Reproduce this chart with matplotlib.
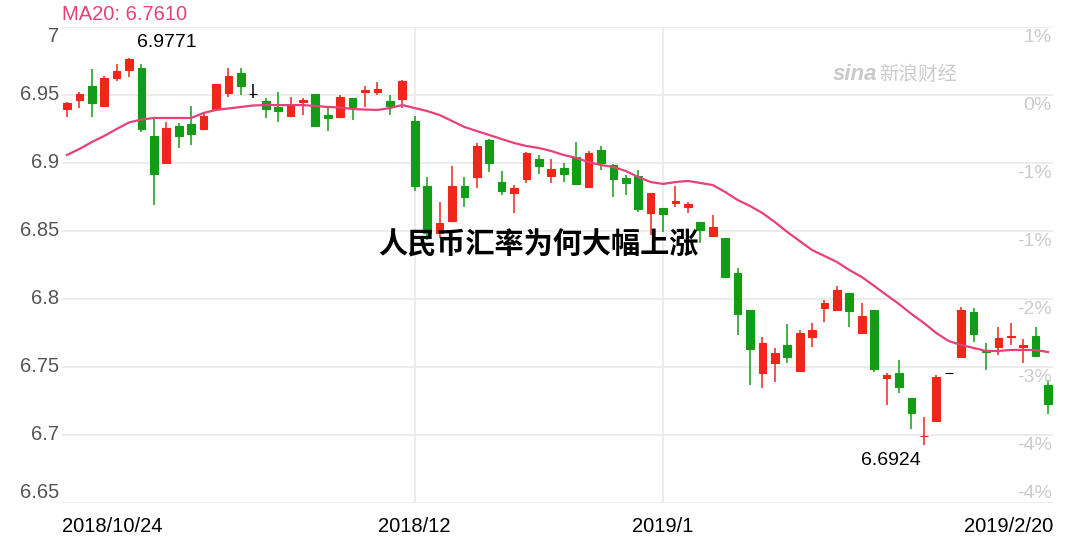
import numpy as np
import pandas as pd
import matplotlib
matplotlib.use('Agg')
import matplotlib.pyplot as plt
import matplotlib.transforms as mtransforms

plt.rcParams['font.family'] = ['Liberation Sans', 'Noto Sans CJK SC', 'DejaVu Sans']

# trading calendar (CNY market)
holidays = ['2018-12-31', '2019-01-01', '2019-02-04', '2019-02-05',
            '2019-02-06', '2019-02-07', '2019-02-08']
extra_days = ['2019-02-02']

# daily OHLC
open_ = [6.9397, 6.9463, 6.9566, 6.9419, 6.9625, 6.9684, 6.9699, 6.9199, 6.9000, 6.9272,
         6.9287, 6.9250, 6.9397, 6.9515, 6.9662, 6.9507, 6.9456, 6.9412, 6.9346, 6.9449,
         6.9507, 6.9353, 6.9338, 6.9478, 6.9522, 6.9522, 6.9456, 6.9471, 6.9309, 6.8831,
         6.8486, 6.8574, 6.8831, 6.8897, 6.9169, 6.8861, 6.8780, 6.8883, 6.9030, 6.8905,
         6.8964, 6.9045, 6.8824, 6.9096, 6.8986, 6.8890, 6.8905, 6.8633, 6.8670, 6.8706,
         6.8677, 6.8567, 6.8464, 6.8449, 6.8192, 6.7920, 6.7457, 6.7530, 6.7663, 6.7472,
         6.7721, 6.7935, 6.7920, 6.8045, 6.7751, 6.7920, 6.7420, 6.7457, 6.7273, 6.6990,
         6.7104, 6.7457, 6.7575, 6.7905, 6.7618, 6.7648, 6.7721, 6.7648, 6.7729, 6.7369]
high = [6.9449, 6.9522, 6.9691, 6.9640, 6.9728, 6.9771, 6.9728, 6.9331, 6.9302, 6.9294,
        6.9419, 6.9375, 6.9581, 6.9699, 6.9699, 6.9581, 6.9478, 6.9522, 6.9486, 6.9478,
        6.9507, 6.9412, 6.9500, 6.9478, 6.9566, 6.9596, 6.9500, 6.9610, 6.9346, 6.8897,
        6.8714, 6.8978, 6.8897, 6.9147, 6.9177, 6.8942, 6.8839, 6.9081, 6.9059, 6.9030,
        6.9000, 6.9155, 6.9089, 6.9125, 6.8993, 6.8912, 6.8949, 6.8780, 6.8670, 6.8831,
        6.8714, 6.8567, 6.8618, 6.8449, 6.8229, 6.7920, 6.7721, 6.7640, 6.7817, 6.7773,
        6.7824, 6.7994, 6.8096, 6.8045, 6.7971, 6.7920, 6.7457, 6.7552, 6.7273, 6.7133,
        6.7442, 6.7457, 6.7942, 6.7934, 6.7677, 6.7794, 6.7824, 6.7707, 6.7794, 6.7405]
low = [6.9338, 6.9404, 6.9338, 6.9412, 6.9603, 6.9632, 6.9228, 6.8692, 6.9000, 6.9111,
       6.9133, 6.9250, 6.9397, 6.9486, 6.9500, 6.9478, 6.9331, 6.9302, 6.9346, 6.9353,
       6.9272, 6.9236, 6.9338, 6.9316, 6.9412, 6.9500, 6.9353, 6.9404, 6.8795, 6.8434,
       6.8449, 6.8574, 6.8677, 6.8817, 6.8934, 6.8765, 6.8633, 6.8853, 6.8920, 6.8853,
       6.8861, 6.8839, 6.8817, 6.8949, 6.8751, 6.8765, 6.8640, 6.8471, 6.8493, 6.8677,
       6.8633, 6.8412, 6.8456, 6.8162, 6.7736, 6.7369, 6.7347, 6.7391, 6.7530, 6.7472,
       6.7648, 6.7832, 6.7920, 6.7795, 6.7751, 6.7464, 6.7222, 6.7310, 6.7045, 6.6924,
       6.7104, 6.7457, 6.7575, 6.7684, 6.7479, 6.7589, 6.7663, 6.7530, 6.7575, 6.7155]
close = [6.9441, 6.9507, 6.9441, 6.9625, 6.9677, 6.9765, 6.9250, 6.8920, 6.9258, 6.9199,
         6.9213, 6.9346, 6.9581, 6.9640, 6.9566, 6.9507, 6.9397, 6.9383, 6.9427, 6.9463,
         6.9272, 6.9331, 6.9486, 6.9412, 6.9537, 6.9544, 6.9419, 6.9603, 6.8831, 6.8486,
         6.8559, 6.8831, 6.8750, 6.9125, 6.9000, 6.8795, 6.8817, 6.9074, 6.8978, 6.8956,
         6.8920, 6.8846, 6.9074, 6.9000, 6.8883, 6.8853, 6.8662, 6.8780, 6.8626, 6.8721,
         6.8699, 6.8508, 6.8530, 6.8162, 6.7890, 6.7633, 6.7677, 6.7604, 6.7575, 6.7751,
         6.7773, 6.7971, 6.8067, 6.7913, 6.7876, 6.7486, 6.7442, 6.7354, 6.7162, 6.6993,
         6.7427, 6.7457, 6.7920, 6.7743, 6.7611, 6.7714, 6.7729, 6.7663, 6.7582, 6.7229]
ma20 = [6.9059, 6.9103, 6.9154, 6.9199, 6.9250, 6.9298, 6.9320, 6.9331, 6.9331, 6.9331,
        6.9331, 6.9368, 6.9390, 6.9401, 6.9412, 6.9423, 6.9426, 6.9426, 6.9426, 6.9426,
        6.9419, 6.9412, 6.9408, 6.9397, 6.9393, 6.9390, 6.9404, 6.9426, 6.9404, 6.9382,
        6.9353, 6.9309, 6.9265, 6.9235, 6.9206, 6.9176, 6.9147, 6.9125, 6.9110, 6.9088,
        6.9059, 6.9037, 6.9007, 6.8985, 6.8971, 6.8941, 6.8897, 6.8860, 6.8846, 6.8860,
        6.8868, 6.8853, 6.8838, 6.8787, 6.8728, 6.8684, 6.8632, 6.8566, 6.8493, 6.8426,
        6.8360, 6.8316, 6.8272, 6.8213, 6.8162, 6.8096, 6.8029, 6.7963, 6.7890, 6.7824,
        6.7750, 6.7691, 6.7662, 6.7640, 6.7618, 6.7618, 6.7625, 6.7625, 6.7625, 6.7610]

y_ticks = [7.0, 6.95, 6.9, 6.85, 6.8, 6.75, 6.7, 6.65]
y_labels = ['7', '6.95', '6.9', '6.85', '6.8', '6.75', '6.7', '6.65']
pct_labels = ['1%', '0%', '-1%', '-1%', '-2%', '-3%', '-4%', '-4%']

title = '人民币汇率为何大幅上涨'

RED = '#f0261b'
GREEN = '#139c16'
MA_COLOR = '#e8407a'

dates = pd.bdate_range('2018-10-24', '2019-02-20')
dates = dates.drop(pd.to_datetime(holidays)).union(pd.to_datetime(extra_days))

o = np.array(open_)
h = np.array(high)
l = np.array(low)
c = np.array(close)
x = np.arange(len(dates))

colors = np.where(c > o, RED, np.where(c < o, GREEN, 'black'))

fig = plt.figure(figsize=(10.74, 5.37), dpi=100)
ax = fig.add_axes([62 / 1074, 34 / 537, 991 / 1074, 476 / 537])
ax.set_xlim(-0.4, len(x) - 0.6)
ax.set_ylim(6.65, 7.0)

for v in y_ticks:
    ax.axhline(v, color='#e9e9e9', lw=1.2, zorder=0)

# month gridlines
month_start = [i for i in range(1, len(dates)) if dates[i].month != dates[i - 1].month]
month_start = [i for i in month_start if dates[i].month in (12, 1)]
for i in month_start:
    ax.axvline(i, color='#e9e9e9', lw=1.2, zorder=0)

ax.vlines(x, l, h, colors=colors, lw=1.1, zorder=2)
ax.bar(x, np.abs(c - o), bottom=np.minimum(o, c), width=0.62, color=colors,
       edgecolor=colors, linewidth=0.8, zorder=3)
ax.plot(x, ma20, color=MA_COLOR, lw=1.6, zorder=4)

for s in ax.spines.values():
    s.set_visible(False)
ax.set_xticks([])
ax.set_yticks([])

# y labels
for k, (v, lab, pct) in enumerate(zip(y_ticks, y_labels, pct_labels)):
    if k == 0:
        dl = -10
    elif k == len(y_ticks) - 1:
        dl = 10
    else:
        dl = 0
    dr = 10 if k < len(y_ticks) - 1 else -10
    tl = mtransforms.offset_copy(ax.get_yaxis_transform(), fig=fig, x=-3, y=dl, units='dots')
    ax.text(0, v, lab, transform=tl, ha='right', va='center', fontsize=14.5, color='#555555')
    tr = mtransforms.offset_copy(ax.get_yaxis_transform(), fig=fig, x=-1, y=-dr, units='dots')
    ax.text(1, v, pct, transform=tr, ha='right', va='center', fontsize=14, color='#cccccc')

# x labels
xt = mtransforms.blended_transform_factory(ax.transData, ax.transAxes)
ax.text(-0.4, -0.03, dates[0].strftime('%Y/%m/%d').replace('/0', '/'), transform=xt,
        ha='left', va='top', fontsize=14.5, color='black')
for i in month_start:
    ax.text(i, -0.03, f'{dates[i].year}/{dates[i].month}', transform=xt,
            ha='center', va='top', fontsize=14.5, color='black')
last = dates[-1]
ax.text(len(x) - 0.6, -0.03, f'{last.year}/{last.month}/{last.day}', transform=xt,
        ha='right', va='top', fontsize=14.5, color='black')

# max / min annotations
imax = int(np.argmax(h))
imin = int(np.argmin(l))
ax.annotate(f'{h[imax]:.4f}', (imax, h[imax]), xytext=(6, 5), textcoords='offset points',
            ha='left', va='bottom', fontsize=14, color='black')
ax.annotate(f'{l[imin]:.4f}', (imin, l[imin]), xytext=(-2, -5), textcoords='offset points',
            ha='right', va='top', fontsize=14, color='black')

# MA20 legend
fig.text(62 / 1074, 1 - 14 / 537, f'MA20: {ma20[-1]:.4f}', ha='left', va='center',
         fontsize=14.5, color=MA_COLOR)

# watermark
fig.text(855 / 1074, 1 - 74 / 537, 'sina', ha='center', va='center', fontsize=16,
         fontweight='bold', style='italic', color='#c9c9c9')
fig.text(918 / 1074, 1 - 74 / 537, '新浪财经', ha='center', va='center', fontsize=14,
         color='#cccccc', family=['Noto Sans CJK SC', 'DejaVu Sans'])

# overlay title
fig.text(538 / 1074, 1 - 245 / 537, title, ha='center', va='center', fontsize=21,
         fontweight='heavy', color='black', family=['Noto Sans CJK SC', 'DejaVu Sans'])

fig.savefig('out.png', dpi=100)
